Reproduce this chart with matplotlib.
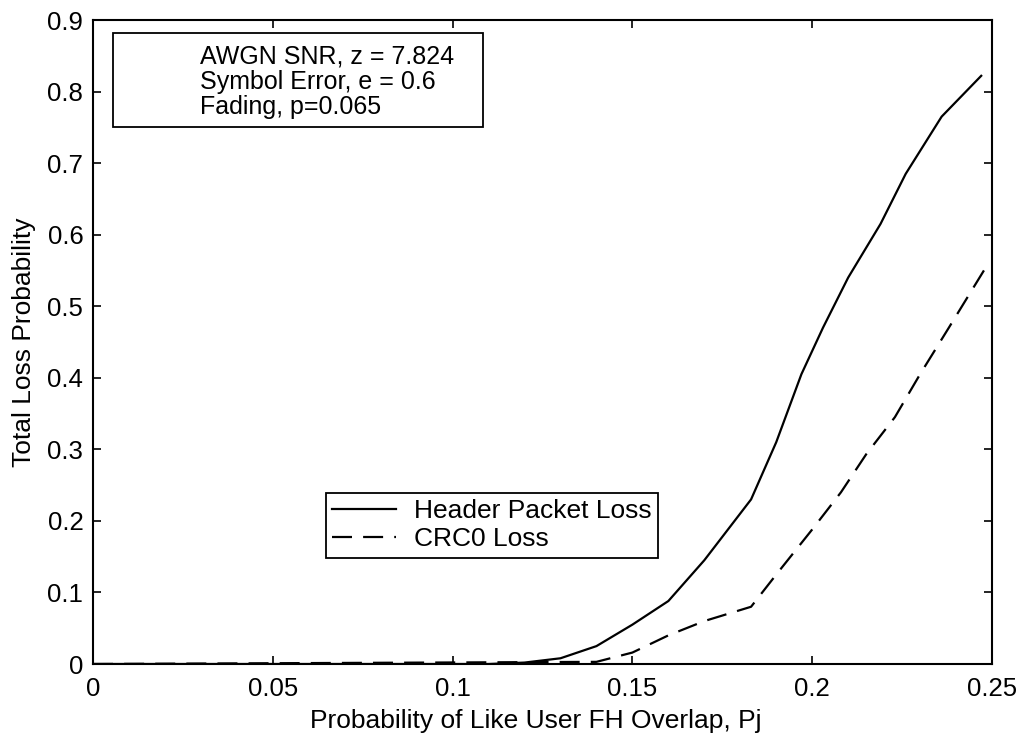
import matplotlib
matplotlib.use("Agg")
import matplotlib.pyplot as plt
from matplotlib.patches import Rectangle

plt.rcParams['font.family'] = ['Liberation Sans', 'DejaVu Sans']

# Data
pj_header = [0.0, 0.11, 0.12, 0.13, 0.14, 0.15, 0.16, 0.17, 0.183, 0.19, 0.197,
             0.203, 0.21, 0.219, 0.226, 0.236, 0.247]
header_loss = [0.0, 0.0, 0.002, 0.008, 0.025, 0.055, 0.088, 0.145, 0.23, 0.31, 0.405,
               0.47, 0.54, 0.615, 0.685, 0.765, 0.822]

pj_crc = [0.0, 0.14, 0.15, 0.16, 0.17, 0.183, 0.19, 0.2, 0.208, 0.215, 0.223,
          0.23, 0.238, 0.248]
crc_loss = [0.0, 0.003, 0.016, 0.04, 0.06, 0.08, 0.125, 0.188, 0.24, 0.293, 0.345,
            0.405, 0.47, 0.552]

series_labels = ["Header Packet Loss", "CRC0 Loss"]
x_ticks = [0, 0.05, 0.1, 0.15, 0.2, 0.25]
x_ticklabels = ["0", "0.05", "0.1", "0.15", "0.2", "0.25"]
y_ticks = [0, 0.1, 0.2, 0.3, 0.4, 0.5, 0.6, 0.7, 0.8, 0.9]
y_ticklabels = ["0", "0.1", "0.2", "0.3", "0.4", "0.5", "0.6", "0.7", "0.8", "0.9"]
info_lines = ["AWGN SNR, z = 7.824", "Symbol Error, e = 0.6", "Fading, p=0.065"]

fig = plt.figure(figsize=(10.19, 7.42), dpi=100)
ax = fig.add_axes([93/1019, 1 - 664/742, (992-93)/1019, (664-20)/742])

ax.plot(pj_header, header_loss, color='black', lw=1.6, label=series_labels[0])
ax.plot(pj_crc, crc_loss, color='black', lw=1.6, dashes=(9, 5), label=series_labels[1])

ax.set_xlim(0, 0.25)
ax.set_ylim(0, 0.9)
ax.set_xticks(x_ticks)
ax.set_xticklabels(x_ticklabels)
ax.set_yticks(y_ticks)
ax.set_yticklabels(y_ticklabels)
ax.tick_params(direction='in', top=True, right=True, length=6, width=1.2,
               labelsize=18.5)
ax.tick_params(axis='x', pad=9)
ax.tick_params(axis='y', pad=7)
for s in ax.spines.values():
    s.set_linewidth(1.5)

ax.set_xlabel("Probability of Like User FH Overlap, Pj", fontsize=19)
ax.xaxis.set_label_coords(0.493, -0.07)
ax.set_ylabel("Total Loss Probability", fontsize=19)
ax.yaxis.set_label_coords(-0.063, 0.5)

leg = ax.legend(loc='upper left', bbox_to_anchor=(0.259, 0.266), fontsize=19,
                frameon=True, fancybox=False, edgecolor='black', framealpha=1,
                handlelength=2.4, borderpad=0.25, labelspacing=0.15, handletextpad=0.7,
                borderaxespad=0)
leg.get_frame().set_linewidth(1.3)

ax.add_patch(Rectangle((0.022, 0.834), 0.412, 0.146, transform=ax.transAxes,
                       fill=False, edgecolor='black', lw=1.3))
for i, line in enumerate(info_lines):
    ax.text(0.119, 0.943 - i * 0.039, line, transform=ax.transAxes, fontsize=18,
            va='center', ha='left')

fig.savefig("out.png", dpi=100)
